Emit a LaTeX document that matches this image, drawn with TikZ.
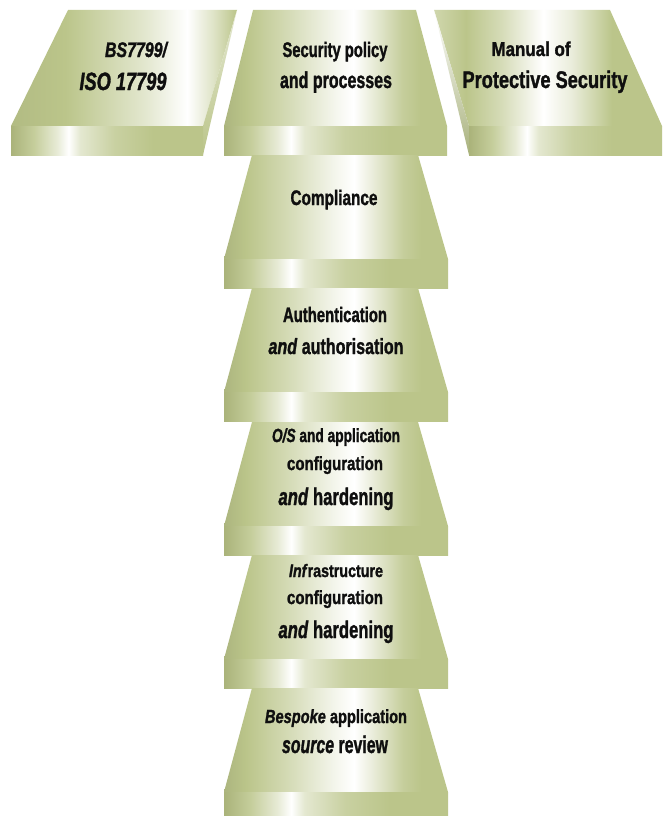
\documentclass[tikz,border=0pt]{standalone}
\usepackage{fontspec}
\setmainfont{Liberation Sans}[BoldFeatures={FakeBold=1.6}, BoldItalicFeatures={FakeBold=1.6}]
\usepackage{graphicx}
\definecolor{G}{RGB}{187,197,138}
\definecolor{GD}{RGB}{170,179,122}
\definecolor{txt}{RGB}{15,15,15}
\pgfdeclarehorizontalshading{frontsh}{100bp}{color(0bp)=(GD); color(25bp)=(GD); color(31bp)=(G!85!white); color(37bp)=(G!35!white); color(40bp)=(white); color(43bp)=(G!40!white); color(52bp)=(G!80!white); color(62bp)=(G); color(75bp)=(G); color(100bp)=(G)}
\pgfdeclarehorizontalshading{topsh}{100bp}{color(0bp)=(G!92!black); color(25bp)=(G!92!black); color(30bp)=(G); color(40bp)=(G!60!white); color(50bp)=(G!15!white); color(54bp)=(white); color(58bp)=(G!30!white); color(65bp)=(G!85!white); color(69bp)=(G); color(75bp)=(G); color(100bp)=(G)}
\pgfdeclarehorizontalshading{topa}{100bp}{color(0bp)=(G!95!black); color(25bp)=(G!95!black); color(37bp)=(G); color(55bp)=(G!40!white); color(64bp)=(white); color(70bp)=(G!50!white); color(75bp)=(G); color(100bp)=(G)}
\pgfdeclarehorizontalshading{topc}{100bp}{color(0bp)=(G!70!white); color(25bp)=(G!70!white); color(32bp)=(G); color(40bp)=(G!60!white); color(49bp)=(white); color(55bp)=(G!30!white); color(64bp)=(G); color(75bp)=(G); color(100bp)=(G)}
\newcommand\fitl[3]{\resizebox{#2pt}{\height}{\fontsize{#1pt}{#1pt}\selectfont #3}}
\newcommand\tier[1]{%
  \shade[shading=topsh] (252,#1) -- (418,#1) -- (448,{#1+104}) -- (224,{#1+104}) -- cycle;
  \shade[shading=frontsh] (224,{#1+104}) rectangle (448,{#1+133});}
\tikzset{lbl/.style={anchor=base, inner sep=0pt, outer sep=0pt, text=txt, font=\bfseries}}
\begin{document}
\begin{tikzpicture}[x=1pt,y=-1pt]
\useasboundingbox (0,0) rectangle (664,816);
\clip (0,0) rectangle (664,816);
\fill[white] (0,0) rectangle (664,816);
% block 1
\shade[shading=topa] (68,10) -- (237,10) -- (203,126) -- (11,126) -- cycle;
\shade[top color=G!40!white, middle color=white, bottom color=G] (237,10) -- (203,126) -- (203,155) -- cycle;
\shade[shading=frontsh] (11,126) rectangle (203,155);
% block 2
\shade[shading=topsh] (253,10) -- (416,10) -- (447,126) -- (224,126) -- cycle;
\shade[shading=frontsh] (224,126) rectangle (447,155);
% block 3
\shade[shading=topc] (434,10) -- (610,10) -- (662,126) -- (469,126) -- cycle;
\shade[top color=white, bottom color=G!90!black] (434,10) -- (469,126) -- (469,155) -- cycle;
\shade[shading=frontsh] (469,126) rectangle (662,155);
% stack
\tier{155}
\tier{288}
\tier{422}
\tier{555}
\tier{688}
% texts
\node[lbl] (bs1) at (136,57) {\fitl{21}{62}{\itshape BS7799/}};
\node[lbl] (bs2) at (123,90) {\fitl{25}{87}{\itshape ISO 17799}};
\node[lbl] (sp1) at (335,57) {\fitl{21}{105}{Security policy}};
\node[lbl] (sp2) at (336,88) {\fitl{23}{112}{and processes}};
\node[lbl] (mp1) at (531,56) {\fitl{20}{79}{Manual of}};
\node[lbl] (mp2) at (545,88) {\fitl{24}{165}{Protective Security}};
\node[lbl] (co) at (334,205) {\fitl{21}{87}{Compliance}};
\node[lbl] (au1) at (335,322) {\fitl{21}{104}{Authentication}};
\node[lbl] (au2) at (336,354) {\fitl{22}{135}{\textit{and} authorisation}};
\node[lbl] (os1) at (336,442) {\fitl{19}{128}{\textit{O/S} and application}};
\node[lbl] (os2) at (335,470) {\fitl{19}{96}{configuration}};
\node[lbl] (os3) at (336,505) {\fitl{24}{115}{\textit{and} hardening}};
\node[lbl] (in1) at (336,577) {\fitl{18}{94}{\textit{Inf}rastructure}};
\node[lbl] (in2) at (335,604) {\fitl{19}{96}{configuration}};
\node[lbl] (in3) at (336,638) {\fitl{24}{115}{\textit{and} hardening}};
\node[lbl] (be1) at (336,723) {\fitl{19}{142}{\textit{Bespoke} application}};
\node[lbl] (be2) at (335,753) {\fitl{24}{106}{\textit{source} review}};
\end{tikzpicture}
\end{document}
